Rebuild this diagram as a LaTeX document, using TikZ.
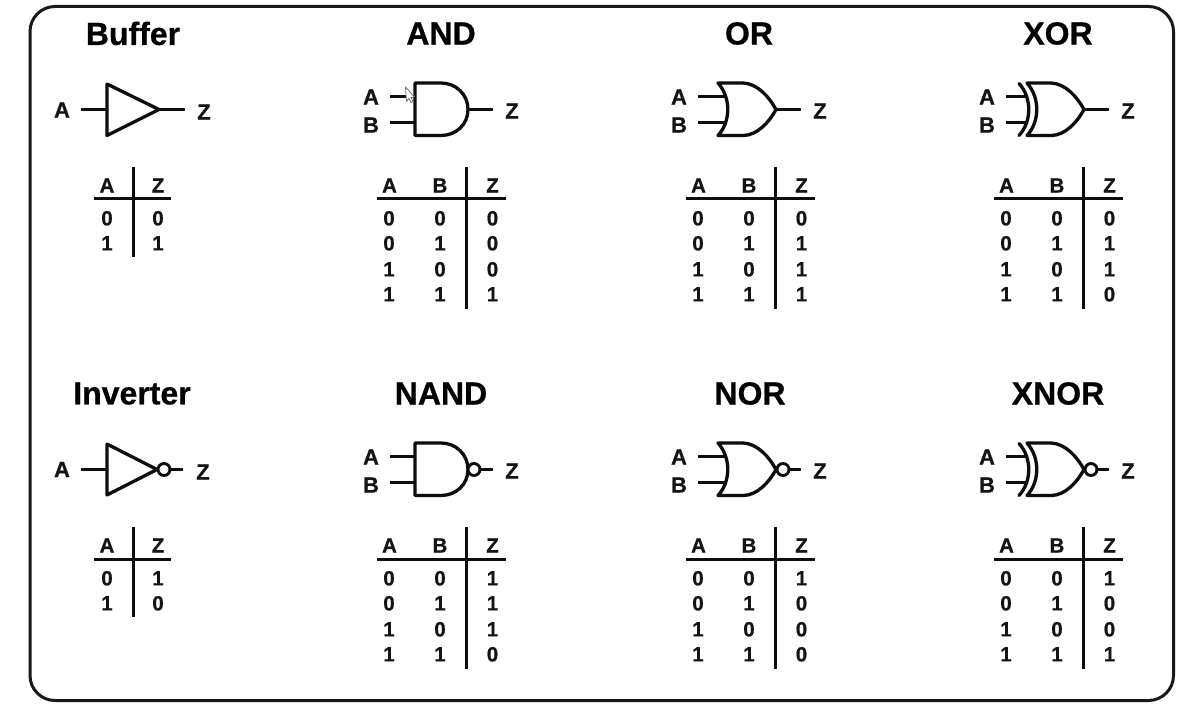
\documentclass[tikz,border=0pt]{standalone}
\usepackage{fontspec}
\setmainfont{Liberation Sans}[BoldFeatures={FakeBold=0.7}]
\tikzset{
  x=1pt,y=-1pt,
  frame/.style={draw=black!90,line width=3pt,rounded corners=25pt,fill=white},
  gateline/.style={draw=black!95,line width=3.3pt,line join=round,line cap=round,fill=white},
  wire/.style={draw=black!95,line width=3pt,line cap=butt},
  bubble/.style={circle,draw=black!95,line width=2.9pt,fill=white,minimum size=12pt,inner sep=0pt},
  title/.style={font=\fontsize{32}{32}\selectfont\bfseries,text=black,inner sep=0pt},
  pinlabel/.style={font=\fontsize{22}{22}\selectfont\bfseries,text=black!92,inner sep=0pt},
  cell/.style={font=\fontsize{20.5}{20.5}\selectfont\bfseries,text=black!92,inner sep=0pt},
  rule/.style={draw=black!95,line width=3pt},
  cursorshape/.style={draw=black!55,line width=0.8pt,fill=white,line join=round}
}
% labels and input wires of a two-input gate
\newcommand{\InPins}[2]{%
  \node[pinlabel] (#1A) at (0,-12.5) {A};
  \node[pinlabel] (#1B) at (0,15.5) {B};
  \node[pinlabel] (#1Z) at (141,1.5) {Z};
  \coordinate (#1ia) at (19,-13);
  \coordinate (#1ib) at (19,13);
  \coordinate (#1ea) at (#2,-13);
  \coordinate (#1eb) at (#2,13);
  \draw[wire] (#1ia) -- (#1ea);
  \draw[wire] (#1ib) -- (#1eb);
}
\newcommand{\AndShape}{%
  \draw[gateline] (44,-26.5) -- (70,-26.5) .. controls (85,-26.5) and (97,-15) .. (97,0)
    .. controls (97,15) and (85,26) .. (70,26) -- (44,26) -- cycle;
}
\newcommand{\OrShape}{%
  \draw[gateline] (39,-26.5) -- (64,-26.5) .. controls (78,-26) and (90,-13) .. (97,0)
    .. controls (90,13) and (78,26) .. (64,26) -- (39,26)
    .. controls (52,12) and (52,-12) .. (39,-26.5) -- cycle;
}
\newcommand{\XorShape}{%
  \draw[gateline] (40,-26.5) -- (64,-26.5) .. controls (78,-26) and (90,-13) .. (97,0)
    .. controls (90,13) and (78,26) .. (64,26) -- (40,26)
    .. controls (53,12) and (53,-12) .. (40,-26.5) -- cycle;
  \draw[gateline,fill=none] (32,-26) .. controls (45,-12) and (45,12) .. (32,26);
}
\newcommand{\PlainOut}[1]{%
  \coordinate (#1tip) at (97,0);
  \coordinate (#1out) at (122,0);
  \draw[wire] (#1tip) -- (#1out);
}
\newcommand{\BubbleOut}[2]{%
  \node[bubble] (#1bub) at (#2,0) {};
  \coordinate (#1out) at (122,0);
  \draw[wire] (#1bub) -- (#1out);
}
% three-column truth table; origin at crossing of rules
\newcommand{\TableThree}[7]{%
  \begin{scope}[shift={(#2,#3)}]
    \coordinate (#1t) at (0,-32); \coordinate (#1b) at (0,110);
    \coordinate (#1l) at (-89,0); \coordinate (#1r) at (40,0);
    \draw[rule] (#1t) -- (#1b);
    \draw[rule] (#1l) -- (#1r);
    \node[cell] (#1hA) at (-76.5,-13.5) {A};
    \node[cell] (#1hB) at (-26,-13.5) {B};
    \node[cell] (#1hZ) at (26.5,-13.5) {Z};
    \node[cell] (#1a1) at (-77,19.3) {0}; \node[cell] (#1b1) at (-26,19.3) {0}; \node[cell] (#1z1) at (26.5,19.3) {#4};
    \node[cell] (#1a2) at (-77,44.3) {0}; \node[cell] (#1b2) at (-26,44.3) {1}; \node[cell] (#1z2) at (26.5,44.3) {#5};
    \node[cell] (#1a3) at (-77,70.3) {1}; \node[cell] (#1b3) at (-26,70.3) {0}; \node[cell] (#1z3) at (26.5,70.3) {#6};
    \node[cell] (#1a4) at (-77,95.3) {1}; \node[cell] (#1b4) at (-26,95.3) {1}; \node[cell] (#1z4) at (26.5,95.3) {#7};
  \end{scope}
}
\newcommand{\TableTwo}[5]{%
  \begin{scope}[shift={(#2,#3)}]
    \coordinate (#1t) at (0,-32); \coordinate (#1b) at (0,58);
    \coordinate (#1l) at (-39,0); \coordinate (#1r) at (38,0);
    \draw[rule] (#1t) -- (#1b);
    \draw[rule] (#1l) -- (#1r);
    \node[cell] (#1hA) at (-26,-13.5) {A};
    \node[cell] (#1hZ) at (25,-13.5) {Z};
    \node[cell] (#1a1) at (-26,19.3) {0}; \node[cell] (#1z1) at (25,19.3) {#4};
    \node[cell] (#1a2) at (-26,44.3) {1}; \node[cell] (#1z2) at (25,44.3) {#5};
  \end{scope}
}
\begin{document}
\begin{tikzpicture}
\useasboundingbox (0,0) rectangle (1203,708);
\fill[white] (0,0) rectangle (1203,708);
\draw[frame] (30,6.5) rectangle (1173.5,700.5);

% titles
\node[title] (tBuffer) at (133,33.5) {Buffer};
\node[title] (tAnd) at (441,33.5) {AND};
\node[title] (tOr) at (749,33.5) {OR};
\node[title] (tXor) at (1058,33.5) {XOR};
\node[title] (tInv) at (132,393.5) {Inverter};
\node[title] (tNand) at (441,393.5) {NAND};
\node[title] (tNor) at (750,393.5) {NOR};
\node[title] (tXnor) at (1058,393.5) {XNOR};

% buffer
\node[pinlabel] (bufA) at (62,110) {A};
\node[pinlabel] (bufZ) at (204,112) {Z};
\coordinate (bufi) at (81,109.5);
\coordinate (bufl) at (107,109.5);
\coordinate (bufp) at (159,109.5);
\coordinate (bufo) at (185,109.5);
\draw[wire] (bufi) -- (bufl);
\draw[wire] (bufp) -- (bufo);
\draw[gateline] (107,84) -- (bufp) -- (107,135.5) -- cycle;

% inverter
\node[pinlabel] (invA) at (62,469.5) {A};
\node[pinlabel] (invZ) at (203,472) {Z};
\coordinate (invi) at (81,469.5);
\coordinate (invl) at (107,469.5);
\coordinate (invo) at (183,469.5);
\draw[wire] (invi) -- (invl);
\draw[gateline] (107,444) -- (157,469.5) -- (107,495) -- cycle;
\node[bubble] (invbub) at (164,469.5) {};
\draw[wire] (invbub) -- (invo);

% AND
\begin{scope}[shift={(371,109.5)}]
  \InPins{and}{44}\PlainOut{and}\AndShape
\end{scope}
% cursor
\draw[cursorshape] (405.5,87) -- (406.5,101.5) -- (409,98.5) -- (411,102.5) -- (413,101.5) -- (411,97.5) -- (414.5,97) -- cycle;

% OR
\begin{scope}[shift={(679,109.5)}]
  \InPins{or}{46}\PlainOut{or}\OrShape
\end{scope}
% XOR
\begin{scope}[shift={(987,109.5)}]
  \InPins{xor}{39}\PlainOut{xor}\XorShape
\end{scope}
% NAND
\begin{scope}[shift={(371,469.5)}]
  \InPins{nand}{44}\AndShape\BubbleOut{nand}{103}
\end{scope}
% NOR
\begin{scope}[shift={(679,469.5)}]
  \InPins{nor}{46}\OrShape\BubbleOut{nor}{104}
\end{scope}
% XNOR
\begin{scope}[shift={(987,469.5)}]
  \InPins{xnor}{39}\XorShape\BubbleOut{xnor}{104}
\end{scope}

% tables
\TableTwo{tb}{133}{199}{0}{1}
\TableTwo{ti}{133}{559}{1}{0}
\TableThree{ta}{466}{199}{0}{0}{0}{1}
\TableThree{to}{775}{199}{0}{1}{1}{1}
\TableThree{tx}{1083}{199}{0}{1}{1}{0}
\TableThree{tn}{466}{559}{1}{1}{1}{0}
\TableThree{tr}{775}{559}{1}{0}{0}{0}
\TableThree{te}{1083}{559}{1}{0}{0}{1}
\end{tikzpicture}
\end{document}
